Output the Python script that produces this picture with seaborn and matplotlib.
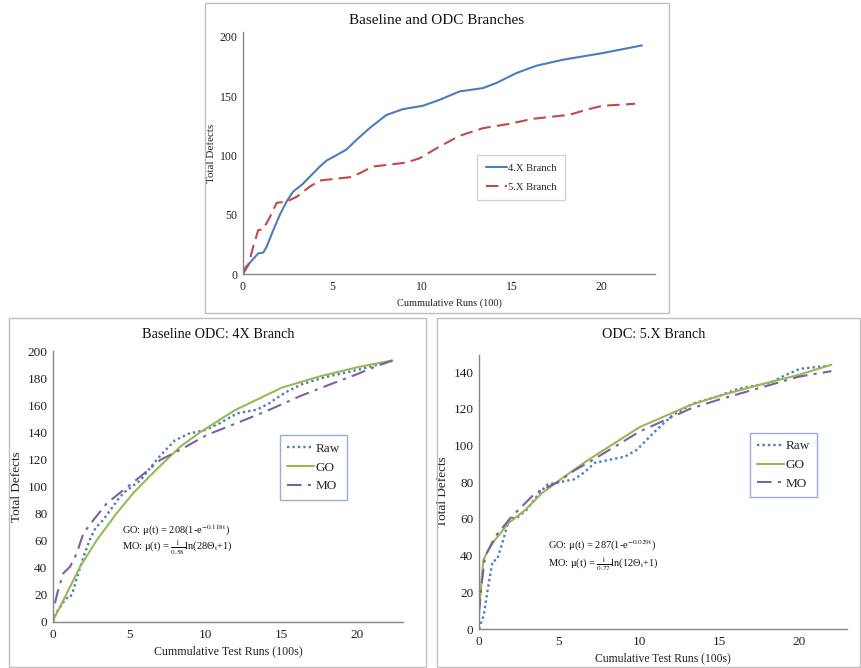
import numpy as np
import pandas as pd
import matplotlib
matplotlib.use("Agg")
import matplotlib.pyplot as plt
from matplotlib.patches import Rectangle
import seaborn as sns

# ---------------- data ----------------
x_4x = [0, 0.1, 0.39, 0.85, 1.13, 1.32, 1.69, 2.06, 2.43, 2.8, 3.27, 3.73, 4.29, 4.66, 5.2,
        5.78, 6.33, 7.07, 8.0, 8.93, 10.04, 10.97, 12.09, 13.39, 14.13, 15.25, 16.36, 17.85,
        20.07, 22.27]
y_4x = [0, 5, 9.6, 17.4, 18, 23, 37, 50, 61, 69.5, 75, 82, 90.6, 95.6, 100,
        105, 113, 123, 134, 139, 141.8, 146.8, 153.9, 156.7, 160.9, 169.3, 175.5, 180.6,
        186.2, 192.7]

x_5x = [0, 0.3, 0.57, 0.85, 1.13, 1.5, 1.88, 2.43, 2.99, 3.73, 4.29, 5.03, 5.96, 6.52, 7.26,
        9.12, 9.86, 10.97, 12.09, 13.39, 14.87, 16.17, 18.22, 19.15, 20.07, 21.89]
y_5x = [0, 7.6, 23, 37, 37.7, 48, 60, 61, 65, 73.7, 78.8, 80, 81.6, 85, 90.6,
        93.9, 97.6, 107.4, 116.5, 122.9, 126.6, 130.8, 134.2, 138.4, 141.8, 143.5]

x_go4 = [0, 0.9, 1.78, 2.88, 4.2, 5.3, 6.84, 8.37, 9.67, 11.9, 15.05, 17.6, 20.0, 22.3]
y_go4 = [1, 21, 40.8, 60.5, 80.5, 95.5, 113, 129.5, 140, 156, 173, 181.5, 188, 193]

x_mo4 = [0.13, 0.3, 0.68, 0.9, 1.12, 1.56, 2.0, 2.66, 3.54, 4.63, 5.73, 7.05, 8.35, 10.1,
         11.9, 14.1, 16.3, 18.5, 20.0, 21.3, 22.3]
y_mo4 = [13.8, 22, 36, 38.4, 40.8, 50.7, 65.5, 75.3, 87.6, 97.4, 107.2, 119.6, 127, 138,
         146, 156, 167, 176.6, 183, 189, 193]

x_go5 = [0, 0.06, 0.27, 0.58, 1.0, 1.83, 2.88, 3.92, 5.17, 6.63, 10.04, 13.2, 15.0, 17.5,
         20.0, 22.02]
y_go5 = [12, 15.8, 37.6, 43, 48.5, 57.6, 64.8, 73.9, 82, 91, 110, 122, 127, 133,
         138.5, 144]

x_mo5 = [0, 0.17, 0.38, 1.0, 2.04, 3.5, 4.96, 6.0, 6.9, 10.04, 13.2, 15.0, 20.0, 22.02]
y_mo5 = [8.5, 24.9, 39.4, 50.3, 61.2, 73.9, 80.2, 86.6, 91, 107.6, 120, 125, 137.5, 140.5]

top_title = "Baseline and ODC Branches"
bl_title = "Baseline ODC: 4X Branch"
br_title = "ODC: 5.X Branch"

# ---------------- style ----------------
sns.set_theme(style="white")
plt.rcParams['font.family'] = ['Liberation Serif', 'DejaVu Serif']
plt.rcParams['mathtext.fontset'] = 'stix'

BLUE = "#4A7EBB"
RED = "#BE4B48"
GREEN = "#98B954"
PURPLE = "#7D60A0"
AXC = "#868686"

fig = plt.figure(figsize=(8.61, 6.68), dpi=100)
W, H = 861, 668


def add_axes_px(left, top, right, bottom):
    return fig.add_axes([left / W, 1 - bottom / H, (right - left) / W, (bottom - top) / H])


def frame_px(left, top, right, bottom):
    fig.add_artist(Rectangle((left / W, 1 - bottom / H), (right - left) / W, (bottom - top) / H,
                             transform=fig.transFigure, fill=False, edgecolor="#bfbfbf", lw=1.0))


def style_ax(ax, fs):
    for s in ["top", "right"]:
        ax.spines[s].set_visible(False)
    for s in ["left", "bottom"]:
        ax.spines[s].set_color(AXC)
        ax.spines[s].set_linewidth(1.0)
    ax.tick_params(axis="x", length=4, width=0.8, color=AXC, direction="inout",
                   labelsize=fs, labelcolor="#222222", pad=3)
    ax.tick_params(axis="y", length=0, labelsize=fs, labelcolor="#222222", pad=4)
    ax.grid(False)
    ax.set_xlim(0, 23)
    ax.set_xticks([0, 5, 10, 15, 20])


def line(ax, x, y, label, color, ls, lw=1.5):
    df = pd.DataFrame({"x": x, "y": y})
    sns.lineplot(data=df, x="x", y="y", ax=ax, color=color, linestyle=ls, lw=lw,
                 label=label, sort=False, estimator=None,
                 solid_joinstyle="round", dash_joinstyle="round")


# frames
frame_px(205, 3, 669, 313)
frame_px(9, 318, 426, 667)
frame_px(437, 318, 860, 667)

# ---------------- top panel ----------------
ax1 = add_axes_px(243, 32, 655, 274)
line(ax1, x_4x, y_4x, "4.X Branch", BLUE, "-")
line(ax1, x_5x, y_5x, "5.X Branch", RED, (0, (6, 3)))
style_ax(ax1, 8.5)
ax1.set_ylim(0, 204)
ax1.set_yticks([0, 50, 100, 150, 200])
ax1.set_xlabel("Cummulative Runs (100)", fontsize=7.5, color="#222222", labelpad=4)
ax1.set_ylabel("Total Defects", fontsize=8, color="#222222", va="center")
ax1.yaxis.set_label_coords(-(243 - 212) / 412, 0.5)
fig.text(437 / W, 1 - 20 / H, top_title, ha="center", va="center", fontsize=11, color="#111111")
leg = ax1.legend(loc="center", bbox_to_anchor=(521 / W, 1 - 177.5 / H), bbox_transform=fig.transFigure,
                 fontsize=7.6, frameon=True, fancybox=False, handlelength=2.0, handletextpad=0.1,
                 borderpad=0.8, labelspacing=0.9, borderaxespad=0)
leg.get_frame().set_edgecolor("#b9c9de")
leg.get_frame().set_linewidth(1.0)

# ---------------- bottom-left panel ----------------
ax2 = add_axes_px(53, 351, 403, 622)
line(ax2, x_4x, y_4x, "Raw", BLUE, (0, (1, 1.3)), lw=1.7)
line(ax2, x_go4, y_go4, "GO", GREEN, "-")
line(ax2, x_mo4, y_mo4, "MO", PURPLE, (0, (7, 3, 1.5, 3)))
style_ax(ax2, 9.5)
ax2.set_ylim(0, 200)
ax2.set_yticks(np.arange(0, 201, 20))
ax2.set_xlabel("Cummulative Test Runs (100s)", fontsize=8.6, color="#222222", labelpad=3)
ax2.set_ylabel("Total Defects", fontsize=9.5, color="#222222", labelpad=3)
fig.text(218 / W, 1 - 335 / H, bl_title, ha="center", va="center", fontsize=10.3, color="#111111")
leg2 = ax2.legend(loc="center", bbox_to_anchor=(313.5 / W, 1 - 467.5 / H), bbox_transform=fig.transFigure,
                  fontsize=9.5, frameon=True, fancybox=False, handlelength=2.0, handletextpad=0.1,
                  borderpad=0.55, labelspacing=0.5, borderaxespad=0)
leg2.get_frame().set_edgecolor("#7d9bcf")
leg2.get_frame().set_linewidth(1.0)
ax2.text(122 / W, 1 - 530 / H, r"GO: μ(t) = 208(1-e$^{\mathrm{-0.118t}}$)", transform=fig.transFigure,
         fontsize=7.5, va="center", ha="left", color="#111111")
ax2.text(122 / W, 1 - 548 / H, r"MO: μ(t) = $\frac{\mathrm{1}}{\mathrm{0.58}}$ln(28Θ$_{\mathrm{t}}$+1)",
         transform=fig.transFigure, fontsize=7.5, va="center", ha="left", color="#111111")

# ---------------- bottom-right panel ----------------
ax3 = add_axes_px(479, 355, 847, 629)
line(ax3, x_5x, y_5x, "Raw", BLUE, (0, (1, 1.3)), lw=1.7)
line(ax3, x_go5, y_go5, "GO", GREEN, "-")
line(ax3, x_mo5, y_mo5, "MO", PURPLE, (0, (7, 3, 1.5, 3)))
style_ax(ax3, 9.5)
ax3.set_ylim(0, 149.3)
ax3.set_yticks(np.arange(0, 141, 20))
ax3.set_xlabel("Cumulative Test Runs (100s)", fontsize=8.4, color="#222222", labelpad=3)
ax3.set_ylabel("Total Defects", fontsize=9.5, color="#222222", labelpad=3)
fig.text(654 / W, 1 - 335 / H, br_title, ha="center", va="center", fontsize=10.3, color="#111111")
leg3 = ax3.legend(loc="center", bbox_to_anchor=(783.5 / W, 1 - 465 / H), bbox_transform=fig.transFigure,
                  fontsize=9.5, frameon=True, fancybox=False, handlelength=2.0, handletextpad=0.1,
                  borderpad=0.55, labelspacing=0.5, borderaxespad=0)
leg3.get_frame().set_edgecolor("#7d9bcf")
leg3.get_frame().set_linewidth(1.0)
ax3.text(548 / W, 1 - 546 / H, r"GO: μ(t) = 287(1-e$^{\mathrm{-0.029t}}$)", transform=fig.transFigure,
         fontsize=7.5, va="center", ha="left", color="#111111")
ax3.text(548 / W, 1 - 564 / H, r"MO: μ(t) = $\frac{\mathrm{1}}{\mathrm{0.77}}$ln(12Θ$_{\mathrm{t}}$+1)",
         transform=fig.transFigure, fontsize=7.5, va="center", ha="left", color="#111111")

fig.savefig("out.png", dpi=100, facecolor="white")
